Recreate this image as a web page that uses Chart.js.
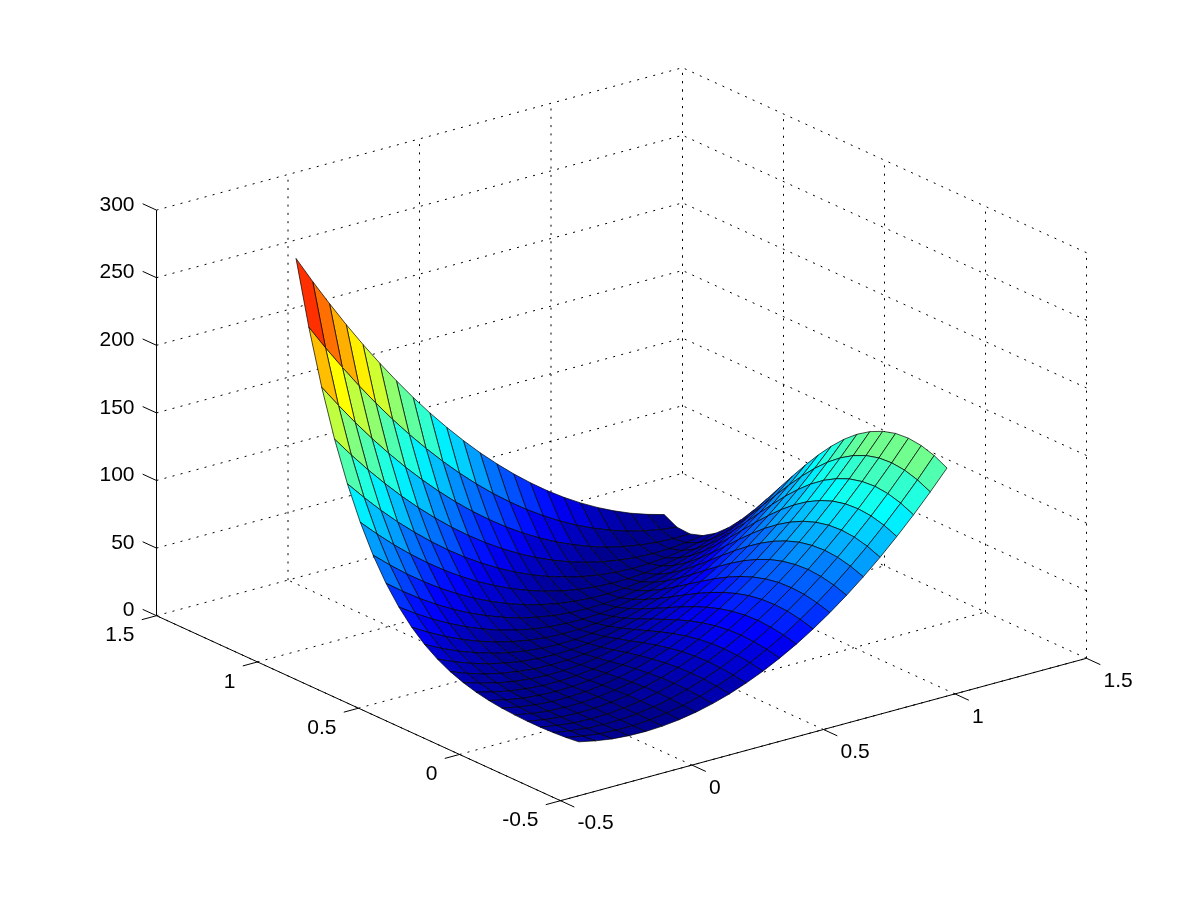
<!DOCTYPE html>
<html>
<head>
<meta charset="utf-8">
<title>Surface</title>
<script src="https://cdn.jsdelivr.net/npm/chart.js@4"></script>
<style>
  html, body { margin: 0; padding: 0; background: #fff; }
  #wrap { width: 1201px; height: 900px; }
</style>
</head>
<body>
<div id="wrap"><canvas id="myChart" width="1201" height="900"></canvas></div>
<script>
'use strict';

// grid of the surface
const xValues = [-0.2, -0.1364, -0.0727, -0.0091, 0.0545, 0.1182, 0.1818, 0.2455, 0.3091, 0.3727, 0.4364, 0.5, 0.5636, 0.6273, 0.6909, 0.7545, 0.8182, 0.8818, 0.9455, 1.0091, 1.0727, 1.1364, 1.2];
const yValues = [-0.2, -0.1364, -0.0727, -0.0091, 0.0545, 0.1182, 0.1818, 0.2455, 0.3091, 0.3727, 0.4364, 0.5, 0.5636, 0.6273, 0.6909, 0.7545, 0.8182, 0.8818, 0.9455, 1.0091, 1.0727, 1.1364, 1.2];

// one row per y value, one column per x value
const zValues = [
  [7.2, 4.6, 2.7, 1.7, 1.5, 2.1, 3.5, 5.7, 8.7, 12.5, 17.2, 22.6, 28.9, 35.9, 43.8, 52.5, 62.0, 72.3, 83.4, 95.4, 108.1, 121.7, 136.0],
  [6.1, 3.7, 2.1, 1.4, 1.4, 2.3, 4.0, 6.4, 9.7, 13.8, 18.8, 24.5, 31.0, 38.3, 46.5, 55.4, 65.2, 75.8, 87.2, 99.4, 112.4, 126.2, 140.9],
  [5.4, 3.2, 1.8, 1.2, 1.4, 2.4, 4.3, 6.9, 10.4, 14.7, 19.7, 25.6, 32.3, 39.8, 48.2, 57.3, 67.2, 78.0, 89.6, 101.9, 115.1, 129.1, 143.9],
  [5.0, 2.9, 1.5, 1.0, 1.3, 2.4, 4.3, 7.0, 10.6, 14.9, 20.1, 26.0, 32.8, 40.4, 48.7, 57.9, 68.0, 78.8, 90.4, 102.8, 116.1, 130.1, 145.0],
  [5.0, 2.8, 1.5, 0.9, 1.2, 2.2, 4.1, 6.8, 10.3, 14.6, 19.7, 25.6, 32.3, 39.9, 48.2, 57.4, 67.3, 78.1, 89.7, 102.1, 115.3, 129.4, 144.2],
  [5.4, 3.0, 1.5, 0.8, 0.9, 1.9, 3.6, 6.1, 9.5, 13.6, 18.6, 24.4, 31.0, 38.4, 46.6, 55.6, 65.4, 76.1, 87.5, 99.8, 112.9, 126.8, 141.4],
  [6.1, 3.5, 1.8, 0.8, 0.7, 1.4, 2.9, 5.2, 8.3, 12.2, 16.9, 22.5, 28.8, 36.0, 43.9, 52.7, 62.3, 72.7, 83.9, 95.9, 108.7, 122.4, 136.8],
  [7.3, 4.4, 2.3, 1.0, 0.6, 0.9, 2.0, 4.0, 6.8, 10.3, 14.7, 19.9, 25.9, 32.7, 40.3, 48.8, 58.0, 68.1, 78.9, 90.6, 103.1, 116.4, 130.5],
  [9.2, 5.9, 3.3, 1.6, 0.6, 0.5, 1.2, 2.7, 5.0, 8.2, 12.1, 16.8, 22.4, 28.8, 35.9, 43.9, 52.7, 62.3, 72.7, 83.9, 96.0, 108.8, 122.5],
  [11.9, 8.0, 4.9, 2.6, 1.1, 0.4, 0.6, 1.5, 3.3, 5.9, 9.2, 13.4, 18.4, 24.2, 30.9, 38.3, 46.5, 55.6, 65.5, 76.1, 87.6, 99.9, 113.0],
  [15.6, 11.0, 7.2, 4.3, 2.2, 0.8, 0.3, 0.6, 1.7, 3.6, 6.4, 9.9, 14.2, 19.4, 25.4, 32.1, 39.7, 48.1, 57.3, 67.3, 78.2, 89.8, 102.2],
  [20.5, 15.2, 10.7, 7.0, 4.1, 2.0, 0.7, 0.3, 0.6, 1.8, 3.7, 6.5, 10.1, 14.5, 19.7, 25.7, 32.5, 40.2, 48.6, 57.9, 67.9, 78.8, 90.5],
  [27.0, 20.8, 15.4, 10.9, 7.1, 4.2, 2.0, 0.7, 0.2, 0.5, 1.6, 3.5, 6.2, 9.8, 14.1, 19.3, 25.2, 32.0, 39.6, 48.0, 57.2, 67.2, 78.0],
  [35.4, 28.2, 21.9, 16.3, 11.6, 7.7, 4.6, 2.3, 0.8, 0.2, 0.3, 1.3, 3.0, 5.6, 9.0, 13.2, 18.2, 24.0, 30.6, 38.0, 46.3, 55.3, 65.2],
  [46.0, 37.8, 30.4, 23.8, 18.0, 13.0, 8.8, 5.5, 2.9, 1.2, 0.3, 0.1, 0.8, 2.3, 4.7, 7.8, 11.7, 16.5, 22.0, 28.4, 35.5, 43.5, 52.3],
  [59.2, 49.9, 41.3, 33.5, 26.6, 20.4, 15.1, 10.5, 6.8, 3.9, 1.8, 0.5, 0.1, 0.4, 1.5, 3.5, 6.3, 9.8, 14.2, 19.4, 25.4, 32.2, 39.8],
  [75.6, 65.0, 55.1, 46.1, 37.8, 30.4, 23.8, 18.0, 13.0, 8.8, 5.5, 2.9, 1.2, 0.2, 0.1, 0.8, 2.2, 4.5, 7.7, 11.6, 16.3, 21.8, 28.2],
  [95.6, 83.6, 72.3, 61.9, 52.3, 43.5, 35.5, 28.3, 22.0, 16.4, 11.7, 7.7, 4.6, 2.3, 0.8, 0.1, 0.2, 1.1, 2.8, 5.4, 8.7, 12.9, 17.9],
  [119.7, 106.2, 93.4, 81.5, 70.5, 60.2, 50.7, 42.0, 34.2, 27.2, 20.9, 15.5, 10.9, 7.1, 4.1, 1.9, 0.6, 0.0, 0.3, 1.3, 3.2, 5.9, 9.4],
  [148.4, 133.3, 119.0, 105.6, 92.9, 81.0, 70.0, 59.7, 50.3, 41.7, 33.9, 26.9, 20.7, 15.3, 10.7, 7.0, 4.0, 1.9, 0.5, 0.0, 0.3, 1.4, 3.3],
  [182.4, 165.7, 149.7, 134.5, 120.2, 106.6, 93.9, 81.9, 70.8, 60.5, 51.0, 42.3, 34.5, 27.4, 21.1, 15.7, 11.1, 7.2, 4.2, 2.0, 0.6, 0.0, 0.2],
  [222.4, 203.8, 186.1, 169.1, 153.0, 137.6, 123.1, 109.4, 96.5, 84.4, 73.1, 62.6, 53.0, 44.1, 36.1, 28.8, 22.4, 16.8, 12.0, 8.0, 4.8, 2.4, 0.8],
  [269.0, 248.5, 228.9, 210.0, 192.0, 174.8, 158.4, 142.7, 127.9, 114.0, 100.8, 88.4, 76.9, 66.1, 56.2, 47.0, 38.7, 31.2, 24.5, 18.6, 13.5, 9.3, 5.8]
];

const xTicks = [-0.5, 0, 0.5, 1, 1.5];
const yTicks = [-0.5, 0, 0.5, 1, 1.5];
const zTicks = [0, 50, 100, 150, 200, 250, 300];
const xTickLabels = ['-0.5', '0', '0.5', '1', '1.5'];
const yTickLabels = ['-0.5', '0', '0.5', '1', '1.5'];
const zTickLabels = ['0', '50', '100', '150', '200', '250', '300'];

// axes box limits
const xLow = -0.5, xHigh = 1.5;
const yLow = -0.5, yHigh = 1.5;
const zLow = 0, zHigh = 300;

// orthographic view, gives canvas position of a 3d point
function project(x, y, z) {
	return {
		x: 591 + 263 * x - 202 * y,
		y: 718.85 - 71.2 * x - 92.5 * y - 1.352 * z
	};
}

// jet colormap, 64 steps like the original figure
function jet(z) {
	let zMax = zValues[zValues.length - 1][0];
	let k = Math.min(63, Math.floor(z / zMax * 64));
	let v = (k + 1) / 64;
	let c = a => Math.round(255 * Math.max(0, Math.min(1, a)));
	let r = c(Math.min(4 * v - 1.5, -4 * v + 4.5));
	let g = c(Math.min(4 * v - 0.5, -4 * v + 3.5));
	let b = c(Math.min(4 * v + 0.5, -4 * v + 2.5));
	return 'rgb(' + r + ',' + g + ',' + b + ')';
}

let datasets = [];

// first dataset is painted last, so the cells closest to the viewer go first
for (let i = 0; i < xValues.length - 1; i++) {
	for (let j = 0; j < yValues.length - 1; j++) {
		datasets.push({
			data: [
				project(xValues[i], yValues[j], zValues[j][i]),
				project(xValues[i + 1], yValues[j], zValues[j][i + 1]),
				project(xValues[i + 1], yValues[j + 1], zValues[j + 1][i + 1]),
				project(xValues[i], yValues[j + 1], zValues[j + 1][i]),
				project(xValues[i], yValues[j], zValues[j][i])
			],
			showLine: true,
			fill: 'shape',
			backgroundColor: jet(zValues[j][i]),
			borderColor: '#000',
			borderWidth: 0.7,
			pointRadius: 0,
			tension: 0
		});
	}
}

function addLine(from, to, dashed) {
	datasets.push({
		data: [project(from[0], from[1], from[2]), project(to[0], to[1], to[2])],
		showLine: true,
		fill: false,
		borderColor: '#000',
		borderWidth: 1,
		borderDash: dashed ? [2, 6.3] : [],
		pointRadius: 0,
		tension: 0
	});
}

// solid axes and tick marks
addLine([xLow, yLow, zLow], [xHigh, yLow, zLow], false);
addLine([xLow, yLow, zLow], [xLow, yHigh, zLow], false);
addLine([xLow, yHigh, zLow], [xLow, yHigh, zHigh], false);
xTicks.forEach(x => addLine([x, yLow, zLow], [x, yLow - 0.0685, zLow], false));
yTicks.forEach(y => addLine([xLow, y, zLow], [xLow - 0.056, y, zLow], false));
zTicks.forEach(z => addLine([xLow, yHigh, z], [xLow, yHigh + 0.0685, z], false));

// dotted grid on the floor and the two back walls, front edges stay solid
xTicks.forEach(x => {
	addLine([x, yLow, zLow], [x, yHigh, zLow], true);
	if (x > xLow) addLine([x, yHigh, zLow], [x, yHigh, zHigh], true);
});
yTicks.forEach(y => {
	addLine([xLow, y, zLow], [xHigh, y, zLow], true);
	addLine([xHigh, y, zLow], [xHigh, y, zHigh], true);
});
zTicks.filter(z => z > zLow).forEach(z => {
	addLine([xLow, yHigh, z], [xHigh, yHigh, z], true);
	addLine([xHigh, yLow, z], [xHigh, yHigh, z], true);
});

// tick labels sit next to the 3d axes, the hidden scales place them
const tickLabelPlugin = {
	id: 'tickLabels',
	afterDraw(chart) {
		let ctx = chart.ctx;
		let put = (text, p, dx, dy, align) => {
			ctx.textAlign = align;
			ctx.fillText(text, chart.scales.x.getPixelForValue(p.x) + dx, chart.scales.y.getPixelForValue(p.y) + dy);
		};
		ctx.save();
		ctx.font = '21px "Liberation Sans", Arial, sans-serif';
		ctx.fillStyle = '#000';
		ctx.textBaseline = 'middle';
		xTicks.forEach((x, i) => put(xTickLabels[i], project(x, yLow, zLow), 17, 23, 'left'));
		yTicks.forEach((y, i) => put(yTickLabels[i], project(xLow, y, zLow), -22, 20, 'right'));
		zTicks.forEach((z, i) => put(zTickLabels[i], project(xLow, yHigh, z), -22, -5, 'right'));
		ctx.restore();
	}
};

let ctx = document.getElementById('myChart');

let myChart = new Chart(ctx, {
	type: 'scatter',
	data: { datasets: datasets },
	plugins: [tickLabelPlugin],
	options: {
		responsive: false,
		animation: false,
		devicePixelRatio: 1,
		layout: { padding: 0 },
		plugins: {
			legend: { display: false },
			title: { display: false },
			tooltip: { enabled: false }
		},
		scales: {
			x: { type: 'linear', min: 0, max: 1201, display: false },
			y: { type: 'linear', min: 0, max: 900, reverse: true, display: false }
		}
	}
});
</script>
</body>
</html>
